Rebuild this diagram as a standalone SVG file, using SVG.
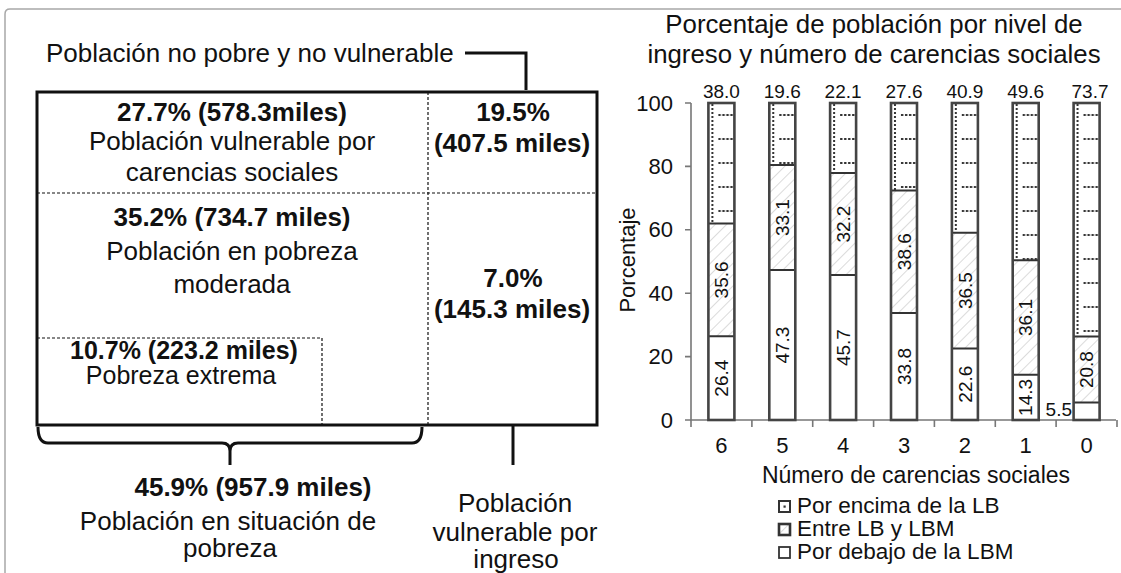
<svg xmlns="http://www.w3.org/2000/svg" width="1121" height="573" viewBox="0 0 1121 573">
<style>
text{font-family:"Liberation Sans",Arial,sans-serif;fill:#111}
.l{font-size:26px}
.b{font-size:26px;font-weight:bold}
.s{font-size:25px}
.sb{font-size:25px;font-weight:bold}
.m{text-anchor:middle}
.e{text-anchor:end}
.t{font-size:25.8px}
.ax{font-size:22px}
.lg{font-size:22.5px}
.v{font-size:19px}
.thick{fill:none;stroke:#111;stroke-width:3}
.dash{fill:none;stroke:#111;stroke-width:1.2;stroke-dasharray:3,2}
.axis{fill:none;stroke:#777;stroke-width:1.6}
.seg{fill:none;stroke:#333;stroke-width:2}
.bar{fill:none;stroke:#444;stroke-width:2.6}
</style>
<defs>
<pattern id="hatch" patternUnits="userSpaceOnUse" width="8" height="8" patternTransform="rotate(45)">
<rect width="8" height="8" fill="#fff"/>
<line x1="0" y1="0" x2="0" y2="8" stroke="#c4c4c4" stroke-width="1.2"/>
</pattern>
<pattern id="dots" patternUnits="userSpaceOnUse" x="708.4" y="103" width="60.857" height="24">
<rect width="60.857" height="24" fill="#fff"/>
<g fill="#333">
<rect x="3" y="1" width="2" height="2"/><rect x="3" y="5" width="2" height="2"/><rect x="3" y="9" width="2" height="2"/>
<rect x="3" y="13" width="2" height="2"/><rect x="3" y="17" width="2" height="2"/><rect x="3" y="21" width="2" height="2"/>
<rect x="10" y="11" width="2.4" height="2"/><rect x="14" y="11" width="2.4" height="2"/><rect x="18" y="11" width="2.4" height="2"/><rect x="22" y="11" width="2.4" height="2"/>
</g>
</pattern>
</defs>
<rect width="1121" height="573" fill="#fff"/>
<path d="M5,573 V14 Q5,9 10,9 H1121" fill="none" stroke="#a8a8a8" stroke-width="1.5"/>

<g id="no-pobre-label">
<text class="l" x="46" y="62">Población no pobre y no vulnerable</text>
</g>
<g id="main-box">
<rect x="37" y="92" width="560" height="333" class="thick"/>
</g>
<g id="vulnerable-carencias">
<text class="b m" x="232" y="121">27.7% (578.3miles)</text>
<text class="l m" x="232" y="150">Población vulnerable por</text>
<text class="l m" x="232" y="181">carencias sociales</text>
</g>
<g id="no-pobre">
<text class="b m" x="513" y="121">19.5%</text>
<text class="b m" x="512" y="152">(407.5 miles)</text>
</g>
<g id="pobreza-moderada">
<text class="b m" x="232" y="226">35.2% (734.7 miles)</text>
<text class="l m" x="232" y="260">Población en pobreza</text>
<text class="l m" x="232" y="293">moderada</text>
</g>
<g id="vulnerable-ingreso-box">
<text class="b m" x="513" y="287">7.0%</text>
<text class="b m" x="512" y="318">(145.3 miles)</text>
</g>
<g id="pobreza-extrema">
<path d="M37,338 H322 V425" class="dash"/>
<text class="sb m" x="184" y="359">10.7% (223.2 miles)</text>
<text class="s m" x="181" y="384">Pobreza extrema</text>
</g>
<g id="pobreza-total">
<text class="b m" x="253" y="496">45.9% (957.9 miles)</text>
<text class="l m" x="228" y="530">Población en situación de</text>
<text class="l m" x="230" y="557">pobreza</text>
</g>
<g id="vulnerable-ingreso-label">
<text class="l m" x="515" y="512">Población</text>
<text class="l m" x="515" y="541">vulnerable por</text>
<text class="l m" x="516" y="568">ingreso</text>
</g>
<g id="connectors">
<path d="M37,193 H597" class="dash"/>
<path d="M428,92 V425" class="dash"/>
<path d="M465,53 H526 V90" class="thick"/>
<path d="M38,427 Q38,443 48,443 H222 Q230,443 230,451 V465 M230,451 Q230,443 238,443 H412 Q422,443 422,427" class="thick"/>
<path d="M513,425 V465" class="thick"/>
</g>

<g id="chart-title">
<text class="t m" x="874" y="33">Porcentaje de población por nivel de</text>
<text class="t m" x="874" y="63">ingreso y número de carencias sociales</text>
</g>
<g id="axes">
<path d="M691,103 V420 H1116" class="axis"/>
<path d="M685,103 H691 M685,166.4 H691 M685,229.8 H691 M685,293.2 H691 M685,356.6 H691 M685,420 H691" class="axis"/>
<path d="M691,420 V427 M751.9,420 V427 M812.7,420 V427 M873.6,420 V427 M934.4,420 V427 M995.3,420 V427 M1056.1,420 V427 M1117,420 V427" class="axis"/>
<text class="ax e" x="673" y="111">100</text>
<text class="ax e" x="673" y="174">80</text>
<text class="ax e" x="673" y="237">60</text>
<text class="ax e" x="673" y="301">40</text>
<text class="ax e" x="673" y="364">20</text>
<text class="ax e" x="673" y="428">0</text>
<text class="ax m" transform="translate(635,260) rotate(-90)">Porcentaje</text>
<text class="ax m" x="721.4" y="453">6</text>
<text class="ax m" x="782.3" y="453">5</text>
<text class="ax m" x="843.1" y="453">4</text>
<text class="ax m" x="904" y="453">3</text>
<text class="ax m" x="964.9" y="453">2</text>
<text class="ax m" x="1025.7" y="453">1</text>
<text class="ax m" x="1086.6" y="453">0</text>
<text class="m" style="font-size:23px" x="916" y="483">Número de carencias sociales</text>
</g>

<g id="bar-6">
<rect x="708.4" y="336.3" width="26" height="83.7" fill="#fff"/>
<rect x="708.4" y="223.5" width="26" height="112.8" fill="url(#hatch)"/>
<rect x="708.4" y="103" width="26" height="120.5" fill="url(#dots)"/>
<path d="M708.4,336.3 h26 M708.4,223.5 h26" class="seg"/>
<rect x="708.4" y="103" width="26" height="317" class="bar"/>
<text class="v m" x="721.4" y="98">38.0</text>
<text class="v m" transform="translate(721.4,378.2) rotate(-90)" dy="0.35em">26.4</text>
<text class="v m" transform="translate(721.4,279.9) rotate(-90)" dy="0.35em">35.6</text>
</g>
<g id="bar-5">
<rect x="769.3" y="270.1" width="26" height="149.9" fill="#fff"/>
<rect x="769.3" y="165.1" width="26" height="105" fill="url(#hatch)"/>
<rect x="769.3" y="103" width="26" height="62.1" fill="url(#dots)"/>
<path d="M769.3,270.1 h26 M769.3,165.1 h26" class="seg"/>
<rect x="769.3" y="103" width="26" height="317" class="bar"/>
<text class="v m" x="782.3" y="98">19.6</text>
<text class="v m" transform="translate(782.3,345.1) rotate(-90)" dy="0.35em">47.3</text>
<text class="v m" transform="translate(782.3,217.6) rotate(-90)" dy="0.35em">33.1</text>
</g>
<g id="bar-4">
<rect x="830.1" y="275.1" width="26" height="144.9" fill="#fff"/>
<rect x="830.1" y="173.1" width="26" height="102" fill="url(#hatch)"/>
<rect x="830.1" y="103" width="26" height="70.1" fill="url(#dots)"/>
<path d="M830.1,275.1 h26 M830.1,173.1 h26" class="seg"/>
<rect x="830.1" y="103" width="26" height="317" class="bar"/>
<text class="v m" x="843.1" y="98">22.1</text>
<text class="v m" transform="translate(843.1,347.6) rotate(-90)" dy="0.35em">45.7</text>
<text class="v m" transform="translate(843.1,224.1) rotate(-90)" dy="0.35em">32.2</text>
</g>
<g id="bar-3">
<rect x="891" y="312.9" width="26" height="107.1" fill="#fff"/>
<rect x="891" y="190.5" width="26" height="122.4" fill="url(#hatch)"/>
<rect x="891" y="103" width="26" height="87.5" fill="url(#dots)"/>
<path d="M891,312.9 h26 M891,190.5 h26" class="seg"/>
<rect x="891" y="103" width="26" height="317" class="bar"/>
<text class="v m" x="904" y="98">27.6</text>
<text class="v m" transform="translate(904,366.5) rotate(-90)" dy="0.35em">33.8</text>
<text class="v m" transform="translate(904,251.7) rotate(-90)" dy="0.35em">38.6</text>
</g>
<g id="bar-2">
<rect x="951.9" y="348.4" width="26" height="71.6" fill="#fff"/>
<rect x="951.9" y="232.7" width="26" height="115.7" fill="url(#hatch)"/>
<rect x="951.9" y="103" width="26" height="129.7" fill="url(#dots)"/>
<path d="M951.9,348.4 h26 M951.9,232.7 h26" class="seg"/>
<rect x="951.9" y="103" width="26" height="317" class="bar"/>
<text class="v m" x="964.9" y="98">40.9</text>
<text class="v m" transform="translate(964.9,384.2) rotate(-90)" dy="0.35em">22.6</text>
<text class="v m" transform="translate(964.9,290.6) rotate(-90)" dy="0.35em">36.5</text>
</g>
<g id="bar-1">
<rect x="1012.7" y="374.7" width="26" height="45.3" fill="#fff"/>
<rect x="1012.7" y="260.2" width="26" height="114.5" fill="url(#hatch)"/>
<rect x="1012.7" y="103" width="26" height="157.2" fill="url(#dots)"/>
<path d="M1012.7,374.7 h26 M1012.7,260.2 h26" class="seg"/>
<rect x="1012.7" y="103" width="26" height="317" class="bar"/>
<text class="v m" x="1025.7" y="98">49.6</text>
<text class="v m" transform="translate(1025.7,397.4) rotate(-90)" dy="0.35em">14.3</text>
<text class="v m" transform="translate(1025.7,317.5) rotate(-90)" dy="0.35em">36.1</text>
</g>
<g id="bar-0">
<rect x="1073.6" y="402.6" width="26" height="17.4" fill="#fff"/>
<rect x="1073.6" y="336.6" width="26" height="66" fill="url(#hatch)"/>
<rect x="1073.6" y="103" width="26" height="233.6" fill="url(#dots)"/>
<path d="M1073.6,402.6 h26 M1073.6,336.6 h26" class="seg"/>
<rect x="1073.6" y="103" width="26" height="317" class="bar"/>
<text class="v m" x="1090" y="98">73.7</text>
<text class="v e" x="1072" y="416">5.5</text>
<text class="v m" transform="translate(1086.6,369.6) rotate(-90)" dy="0.35em">20.8</text>
</g>

<g id="legend">
<rect x="779" y="501" width="11" height="11" fill="#fff" stroke="#333" stroke-width="2"/>
<rect x="783.5" y="505.5" width="2.2" height="2.2" fill="#333"/>
<text class="lg" x="797" y="513">Por encima de la LB</text>
<rect x="779" y="524" width="11" height="11" fill="url(#hatch)" stroke="#333" stroke-width="2.6"/>
<text class="lg" x="797" y="536">Entre LB y LBM</text>
<rect x="779" y="547" width="11" height="11" fill="#fff" stroke="#333" stroke-width="1.8"/>
<text class="lg" x="797" y="559">Por debajo de la LBM</text>
</g>
</svg>
